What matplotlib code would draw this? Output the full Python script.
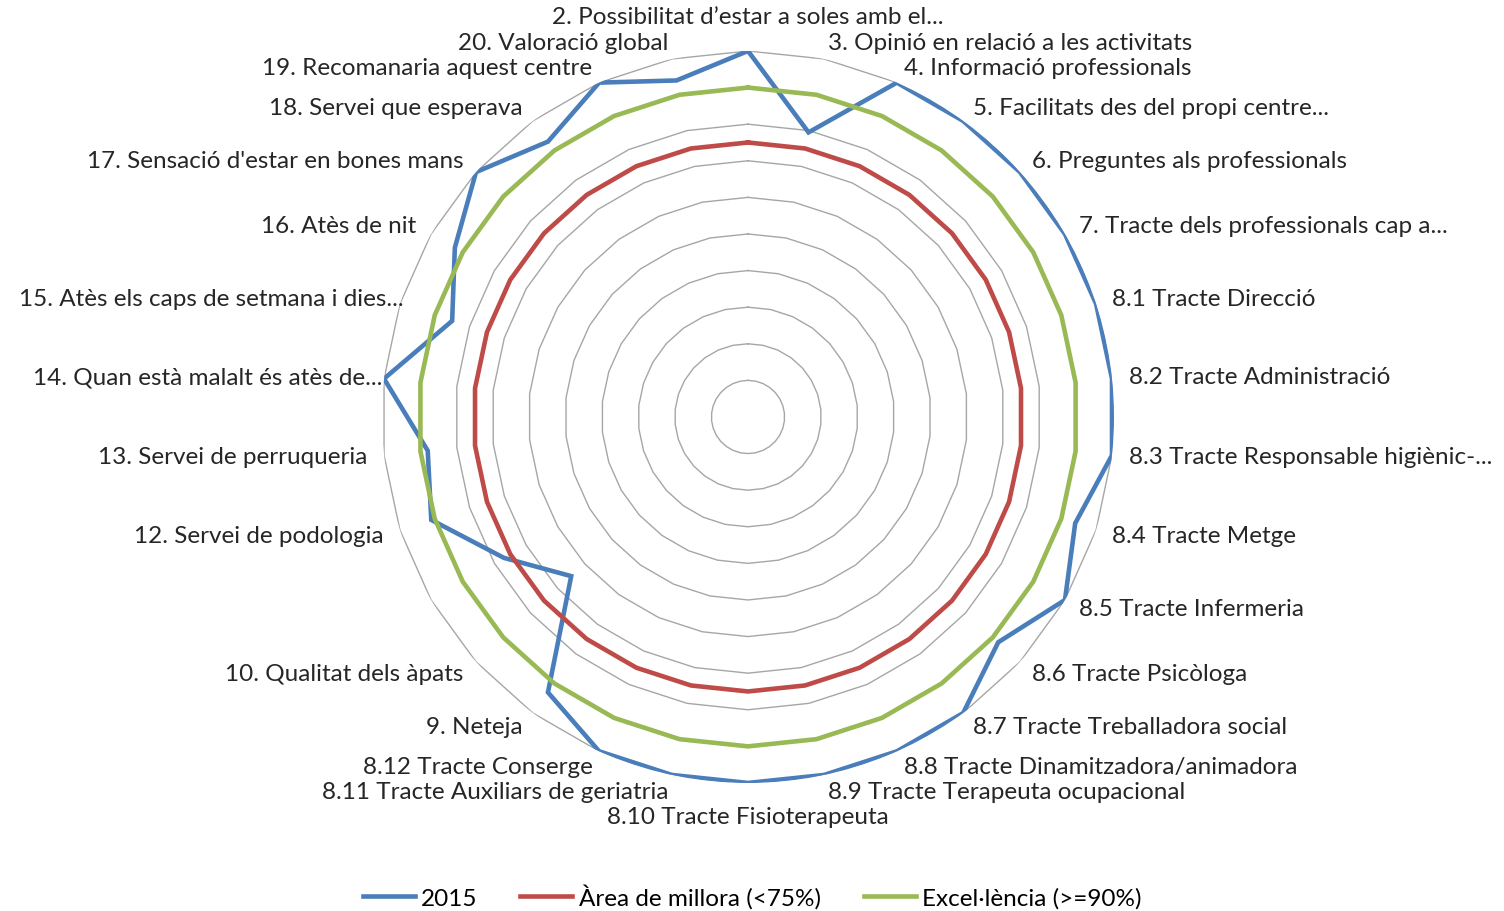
import numpy as np
import matplotlib
matplotlib.use('Agg')
import matplotlib.pyplot as plt
plt.rcParams.update({'font.family': ['Lato', 'DejaVu Sans'], 'font.size': 17.5})

categories = ['2. Possibilitat d\u2019estar a soles amb el...',
              '3. Opinió en relació a les activitats',
              '4. Informació professionals',
              '5. Facilitats des del propi centre...',
              '6. Preguntes als professionals',
              '7. Tracte dels professionals cap a...',
              '8.1 Tracte Direcció',
              '8.2 Tracte Administració',
              '8.3 Tracte Responsable higiènic-...',
              '8.4 Tracte Metge',
              '8.5 Tracte Infermeria',
              '8.6 Tracte Psicòloga',
              '8.7 Tracte Treballadora social',
              '8.8 Tracte Dinamitzadora/animadora',
              '8.9 Tracte Terapeuta ocupacional',
              '8.10 Tracte Fisioterapeuta',
              '8.11 Tracte Auxiliars de geriatria',
              '8.12 Tracte Conserge',
              '9. Neteja',
              '10. Qualitat dels àpats',
              '',
              '12. Servei de podologia',
              '13. Servei de perruqueria',
              '14. Quan està malalt és atès de...',
              '15. Atès els caps de setmana i dies...',
              '16. Atès de nit',
              "17. Sensació d'estar en bones mans",
              '18. Servei que esperava',
              '19. Recomanaria aquest centre',
              '20. Valoració global']

vals_2015 = [1.0, 0.795, 1.0, 1.0, 1.0, 1.0, 1.0, 1.0, 1.0, 0.94,
             1.0, 0.92, 1.0, 1.0, 1.0, 1.0, 1.0, 1.0, 0.93, 0.65,
             0.77, 0.91, 0.88, 1.0, 0.85, 0.925, 1.0, 0.93, 1.0, 0.94]
millora = [0.75] * len(categories)
excel = [0.90] * len(categories)
grid_levels = [0.1, 0.2, 0.3, 0.4, 0.5, 0.6, 0.7, 0.8, 0.9, 1.0]

n = len(categories)
angles = np.arange(n) * 2 * np.pi / n
closed = np.append(angles, angles[0])

fig = plt.figure(figsize=(15.04, 9.12), dpi=100)
ax = fig.add_axes([0.254, 0.1404, 0.4867, 0.8026], projection='polar')
ax.set_theta_zero_location('N')
ax.set_theta_direction(-1)
ax.set_ylim(0, 1)
ax.grid(False)
ax.spines['polar'].set_visible(False)
ax.set_xticks([])
ax.set_yticks([])
ax.patch.set_alpha(0)

for lv in grid_levels:
    ax.plot(closed, [lv] * (n + 1), color='#a6a6a6', lw=1.0, zorder=1)

series = [(vals_2015, '#4a7ebb', '2015'),
          (millora, '#be4b48', 'Àrea de millora (<75%)'),
          (excel, '#98b954', 'Excel·lència (>=90%)')]
for vals, col, lab in series:
    ax.plot(closed, vals + vals[:1], color=col, lw=3.3, label=lab,
            solid_joinstyle='miter', zorder=3)

# Excel squeezed the two long left labels against the ring
nudge = {23: 11, 24: 14}

d = 12
for i, (a, lab) in enumerate(zip(angles, categories)):
    s, c = np.sin(a), np.cos(a)
    if abs(s) < 0.01:
        ha = 'center'
        off = (0, 24.5 if c > 0 else -24.5)
    else:
        ha = 'left' if s > 0 else 'right'
        off = (d * s + nudge.get(i, 0), d * c)
    ax.annotate(lab, xy=(a, 1.0), xytext=off, textcoords='offset points',
                ha=ha, va='center', color='#262626')

fig.legend(loc='center', bbox_to_anchor=(0.5, 0.0164), ncol=3,
           frameon=False, handlelength=2.14, columnspacing=1.77,
           handletextpad=0.25)

fig.savefig('out.png', dpi=100)
